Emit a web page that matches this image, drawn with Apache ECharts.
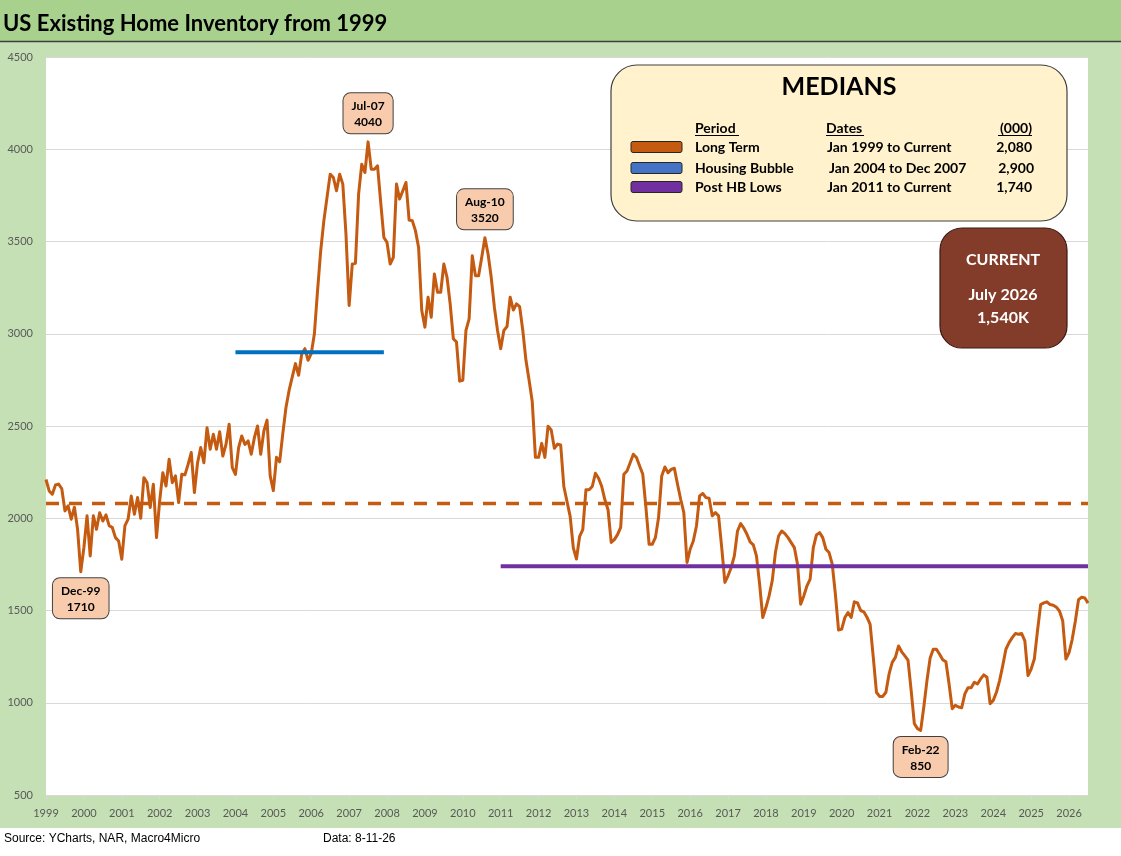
<!DOCTYPE html>
<html><head><meta charset="utf-8">
<script src="https://cdn.jsdelivr.net/npm/echarts@6/dist/echarts.min.js"></script>
<style>html,body{margin:0;padding:0;background:#fff}#c{width:1121px;height:856px}</style>
</head><body><div id="c"></div><script>
// Monthly US existing home inventory (000s), Jan 1999 - Jul 2026
const inv1999 = [2210, 2148, 2130, 2180, 2185, 2160, 2040, 2067, 1995, 2060, 1940, 1710];
const inv2000 = [1840, 2013, 1796, 2013, 1940, 2030, 1985, 2018, 1960, 1950, 1895, 1877];
const inv2001 = [1778, 1960, 1995, 2120, 2022, 2112, 2000, 2220, 2193, 2058, 2184, 1895];
const inv2002 = [2094, 2247, 2175, 2320, 2193, 2230, 2085, 2238, 2235, 2292, 2356, 2139];
const inv2003 = [2301, 2383, 2301, 2491, 2374, 2455, 2374, 2469, 2337, 2400, 2509, 2274];
const inv2004 = [2238, 2383, 2446, 2400, 2419, 2347, 2437, 2500, 2347, 2473, 2532, 2230];
const inv2005 = [2150, 2330, 2306, 2460, 2600, 2694, 2766, 2838, 2775, 2892, 2919, 2856];
const inv2006 = [2892, 3000, 3234, 3450, 3613, 3739, 3865, 3847, 3775, 3865, 3811, 3540];
const inv2007 = [3153, 3378, 3382, 3757, 3919, 3874, 4040, 3892, 3892, 3910, 3712, 3522];
const inv2008 = [3495, 3378, 3414, 3811, 3730, 3775, 3820, 3616, 3613, 3559, 3468, 3126];
const inv2009 = [3036, 3198, 3090, 3324, 3225, 3225, 3378, 3306, 3162, 2973, 2955, 2743];
const inv2010 = [2748, 3018, 3081, 3423, 3315, 3315, 3414, 3520, 3432, 3306, 3144, 3018];
const inv2011 = [2919, 3018, 3039, 3198, 3129, 3162, 3147, 3018, 2856, 2748, 2631, 2330];
const inv2012 = [2330, 2406, 2330, 2499, 2478, 2379, 2402, 2397, 2172, 2091, 2010, 1839];
const inv2013 = [1779, 1902, 1938, 2154, 2154, 2172, 2244, 2217, 2172, 2100, 2046, 1869];
const inv2014 = [1884, 1911, 1950, 2238, 2256, 2301, 2347, 2329, 2283, 2238, 2058, 1859];
const inv2015 = [1859, 1895, 2004, 2229, 2278, 2247, 2265, 2271, 2184, 2103, 2031, 1760];
const inv2016 = [1832, 1877, 1958, 2121, 2134, 2112, 2108, 2013, 2031, 2013, 1841, 1652];
const inv2017 = [1688, 1733, 1796, 1931, 1971, 1946, 1913, 1872, 1856, 1796, 1643, 1462];
const inv2018 = [1516, 1579, 1661, 1814, 1904, 1931, 1917, 1895, 1868, 1841, 1751, 1534];
const inv2019 = [1579, 1634, 1670, 1841, 1910, 1922, 1895, 1832, 1814, 1751, 1588, 1394];
const inv2020 = [1399, 1462, 1489, 1462, 1547, 1541, 1500, 1493, 1464, 1425, 1246, 1057];
const inv2021 = [1034, 1034, 1057, 1156, 1219, 1246, 1308, 1276, 1254, 1231, 1066, 887];
const inv2022 = [860, 850, 977, 1120, 1242, 1290, 1290, 1263, 1233, 1222, 1102, 968];
const inv2023 = [986, 977, 973, 1048, 1081, 1081, 1111, 1102, 1129, 1151, 1138, 995];
const inv2024 = [1013, 1057, 1120, 1201, 1290, 1326, 1353, 1375, 1371, 1375, 1335, 1147];
const inv2025 = [1183, 1237, 1389, 1532, 1541, 1547, 1532, 1529, 1518, 1496, 1443, 1237];
const inv2026 = [1272, 1344, 1443, 1559, 1572, 1568, 1540];

const years = [1999,2000,2001,2002,2003,2004,2005,2006,2007,2008,2009,2010,2011,2012,2013,2014,2015,2016,2017,2018,2019,2020,2021,2022,2023,2024,2025,2026];
const inventory = [].concat(inv1999, inv2000, inv2001, inv2002, inv2003, inv2004, inv2005, inv2006, inv2007, inv2008, inv2009, inv2010, inv2011, inv2012, inv2013, inv2014, inv2015, inv2016, inv2017, inv2018, inv2019, inv2020, inv2021, inv2022, inv2023, inv2024, inv2025, inv2026);
const monthNames = ['Jan','Feb','Mar','Apr','May','Jun','Jul','Aug','Sep','Oct','Nov','Dec'];
const categories = inventory.map((v, i) => monthNames[i % 12] + '-' + String(years[Math.floor(i / 12)]).slice(2));

// Medians
const medianNames = ['Long Term', 'Housing Bubble', 'Post HB Lows'];
const medianDates = ['Jan 1999 to Current', 'Jan 2004 to Dec 2007', 'Jan 2011 to Current'];
const medianValues = [2080, 2900, 1740];
const medianStart = ['Jan-99', 'Jan-04', 'Jan-11'];
const medianEnd = ['Jul-26', 'Dec-07', 'Jul-26'];
const medianColors = ['#C55A11', '#0070C0', '#7030A0'];
const swatchColors = ['#C55A11', '#4472C4', '#7030A0'];

// Annotated points
const annotCats = ['Dec-99', 'Jul-07', 'Aug-10', 'Feb-22'];
const annotPos = ['bottom', 'top', 'top', 'bottom'];

const FONT = 'Lato, "Open Sans", sans-serif';
const fmt = v => v.toLocaleString('en-US');

const medianSeries = medianValues.map((mv, k) => {
  const s = categories.indexOf(medianStart[k]);
  const e = categories.indexOf(medianEnd[k]);
  return {
    type: 'line', name: medianNames[k], symbol: 'none', silent: true, z: 4,
    data: categories.map((c, i) => (i >= s && i <= e) ? mv : null),
    lineStyle: { color: medianColors[k], width: k === 0 ? 3.5 : 4, type: k === 0 ? [13, 10] : 'solid', cap: 'butt' }
  };
});

const markData = annotCats.map((c, k) => {
  const idx = categories.indexOf(c);
  return {
    coord: [idx, inventory[idx]],
    label: { position: annotPos[k], distance: annotPos[k] === 'top' ? 8 : 6, formatter: c + '\n' + inventory[idx] }
  };
});

const lastIdx = inventory.length - 1;
const lastMonthFull = ['January','February','March','April','May','June','July','August','September','October','November','December'][lastIdx % 12] + ' ' + years[Math.floor(lastIdx / 12)];

const rowY = [147, 168, 187];
const graphics = [
  { type: 'rect', z: -10, shape: { x: 0, y: 0, width: 1121, height: 41 }, style: { fill: '#A9D18E' } },
  { type: 'rect', z: -10, shape: { x: 0, y: 42, width: 1121, height: 786 }, style: { fill: '#C5E0B4' } },
  { type: 'line', z: -9, shape: { x1: 0, y1: 41.5, x2: 1121, y2: 41.5 }, style: { stroke: '#404040', lineWidth: 1.5 } },
  { type: 'rect', z: -9, shape: { x: 46, y: 57, width: 1042, height: 738 }, style: { fill: '#FFFFFF' } },
  { type: 'text', z: 50, x: 3, y: 24, style: { text: 'US Existing Home Inventory from 1999', font: 'bold 22px ' + FONT, fill: '#000', textVerticalAlign: 'middle' } },
  { type: 'text', z: 50, x: 4, y: 839, style: { text: 'Source: YCharts, NAR, Macro4Micro', font: '12px "Liberation Sans", Arial, sans-serif', fill: '#000', textVerticalAlign: 'middle' } },
  { type: 'text', z: 50, x: 323, y: 839, style: { text: 'Data: 8-11-26', font: '12px "Liberation Sans", Arial, sans-serif', fill: '#000', textVerticalAlign: 'middle' } },
  // MEDIANS box
  { type: 'rect', z: 100, shape: { x: 611, y: 65, width: 456, height: 156, r: 26 }, style: { fill: '#FFF2CC', stroke: '#404040', lineWidth: 1.2 } },
  { type: 'text', z: 101, x: 839, y: 87, style: { text: 'MEDIANS', font: 'bold 25px ' + FONT, fill: '#000', textAlign: 'center', textVerticalAlign: 'middle' } },
  { type: 'text', z: 101, x: 695, y: 128, style: { text: 'Period', font: 'bold 14px ' + FONT, fill: '#000', textVerticalAlign: 'middle' } },
  { type: 'line', z: 101, shape: { x1: 695, y1: 135.5, x2: 739, y2: 135.5 }, style: { stroke: '#000', lineWidth: 1 } },
  { type: 'text', z: 101, x: 826, y: 128, style: { text: 'Dates', font: 'bold 14px ' + FONT, fill: '#000', textVerticalAlign: 'middle' } },
  { type: 'line', z: 101, shape: { x1: 826, y1: 135.5, x2: 864, y2: 135.5 }, style: { stroke: '#000', lineWidth: 1 } },
  { type: 'text', z: 101, x: 1032, y: 128, style: { text: '(000)', font: 'bold 14px ' + FONT, fill: '#000', textAlign: 'right', textVerticalAlign: 'middle' } },
  { type: 'line', z: 101, shape: { x1: 998, y1: 135.5, x2: 1032, y2: 135.5 }, style: { stroke: '#000', lineWidth: 1 } },
  // CURRENT box
  { type: 'rect', z: 100, shape: { x: 940, y: 228, width: 127, height: 120, r: 22 }, style: { fill: '#843C2A', stroke: '#3B1A12', lineWidth: 1.2 } },
  { type: 'text', z: 101, x: 1003, y: 260, style: { text: 'CURRENT', font: 'bold 16px ' + FONT, fill: '#fff', textAlign: 'center', textVerticalAlign: 'middle' } },
  { type: 'text', z: 101, x: 1003, y: 295, style: { text: lastMonthFull, font: 'bold 16px ' + FONT, fill: '#fff', textAlign: 'center', textVerticalAlign: 'middle' } },
  { type: 'text', z: 101, x: 1003, y: 318, style: { text: fmt(inventory[lastIdx]) + 'K', font: 'bold 16px ' + FONT, fill: '#fff', textAlign: 'center', textVerticalAlign: 'middle' } }
];
medianNames.forEach((n, k) => {
  graphics.push({ type: 'rect', z: 101, shape: { x: 631, y: rowY[k] - 5.5, width: 51, height: 11, r: 2 }, style: { fill: swatchColors[k], stroke: '#262626', lineWidth: 1 } });
  graphics.push({ type: 'text', z: 101, x: 695, y: rowY[k], style: { text: n, font: 'bold 14px ' + FONT, fill: '#000', textVerticalAlign: 'middle' } });
  graphics.push({ type: 'text', z: 101, x: 827 + (k === 1 ? 2 : 0), y: rowY[k], style: { text: medianDates[k], font: 'bold 14px ' + FONT, fill: '#000', textVerticalAlign: 'middle' } });
  graphics.push({ type: 'text', z: 101, x: 1032 + (k === 1 ? 2 : 0), y: rowY[k], style: { text: fmt(medianValues[k]), font: 'bold 14px ' + FONT, fill: '#000', textAlign: 'right', textVerticalAlign: 'middle' } });
});

const chart = echarts.init(document.getElementById('c'), null, { renderer: 'canvas' });
chart.setOption({
  animation: false,
  backgroundColor: '#fff',
  textStyle: { fontFamily: FONT },
  grid: { left: 46, right: 33, top: 57, bottom: 61, containLabel: false },
  graphic: { elements: graphics },
  xAxis: {
    type: 'category', data: categories, boundaryGap: false,
    axisLine: { show: true, lineStyle: { color: '#D9D9D9' } },
    axisTick: { show: true, interval: (i) => i % 12 === 0, length: 4, lineStyle: { color: '#D9D9D9' } },
    axisLabel: { interval: (i) => i % 12 === 0, formatter: (v, i) => String(years[Math.floor(i / 12)]), color: '#595959', fontSize: 11, margin: 13, fontFamily: FONT },
    splitLine: { show: false }
  },
  yAxis: {
    type: 'value', min: 500, max: 4500, interval: 500,
    axisLine: { show: false }, axisTick: { show: false },
    axisLabel: { formatter: (v) => String(v), color: '#595959', fontSize: 11, margin: 13, fontFamily: FONT },
    splitLine: { lineStyle: { color: '#D9D9D9', width: 1 } }
  },
  series: [
    {
      type: 'line', name: 'Inventory', data: inventory, symbol: 'none', z: 3,
      lineStyle: { color: '#C55A11', width: 3, join: 'round' },
      markPoint: {
        symbol: 'circle', symbolSize: 1, itemStyle: { color: 'rgba(0,0,0,0)' },
        label: {
          show: true, color: '#000', fontWeight: 'bold', fontSize: 12, lineHeight: 16, fontFamily: FONT,
          backgroundColor: '#F8CBAD', borderColor: '#404040', borderWidth: 1, borderRadius: 7, padding: [5, 8, 3, 8], align: 'center'
        },
        data: markData
      }
    }
  ].concat(medianSeries)
});
</script></body></html>
